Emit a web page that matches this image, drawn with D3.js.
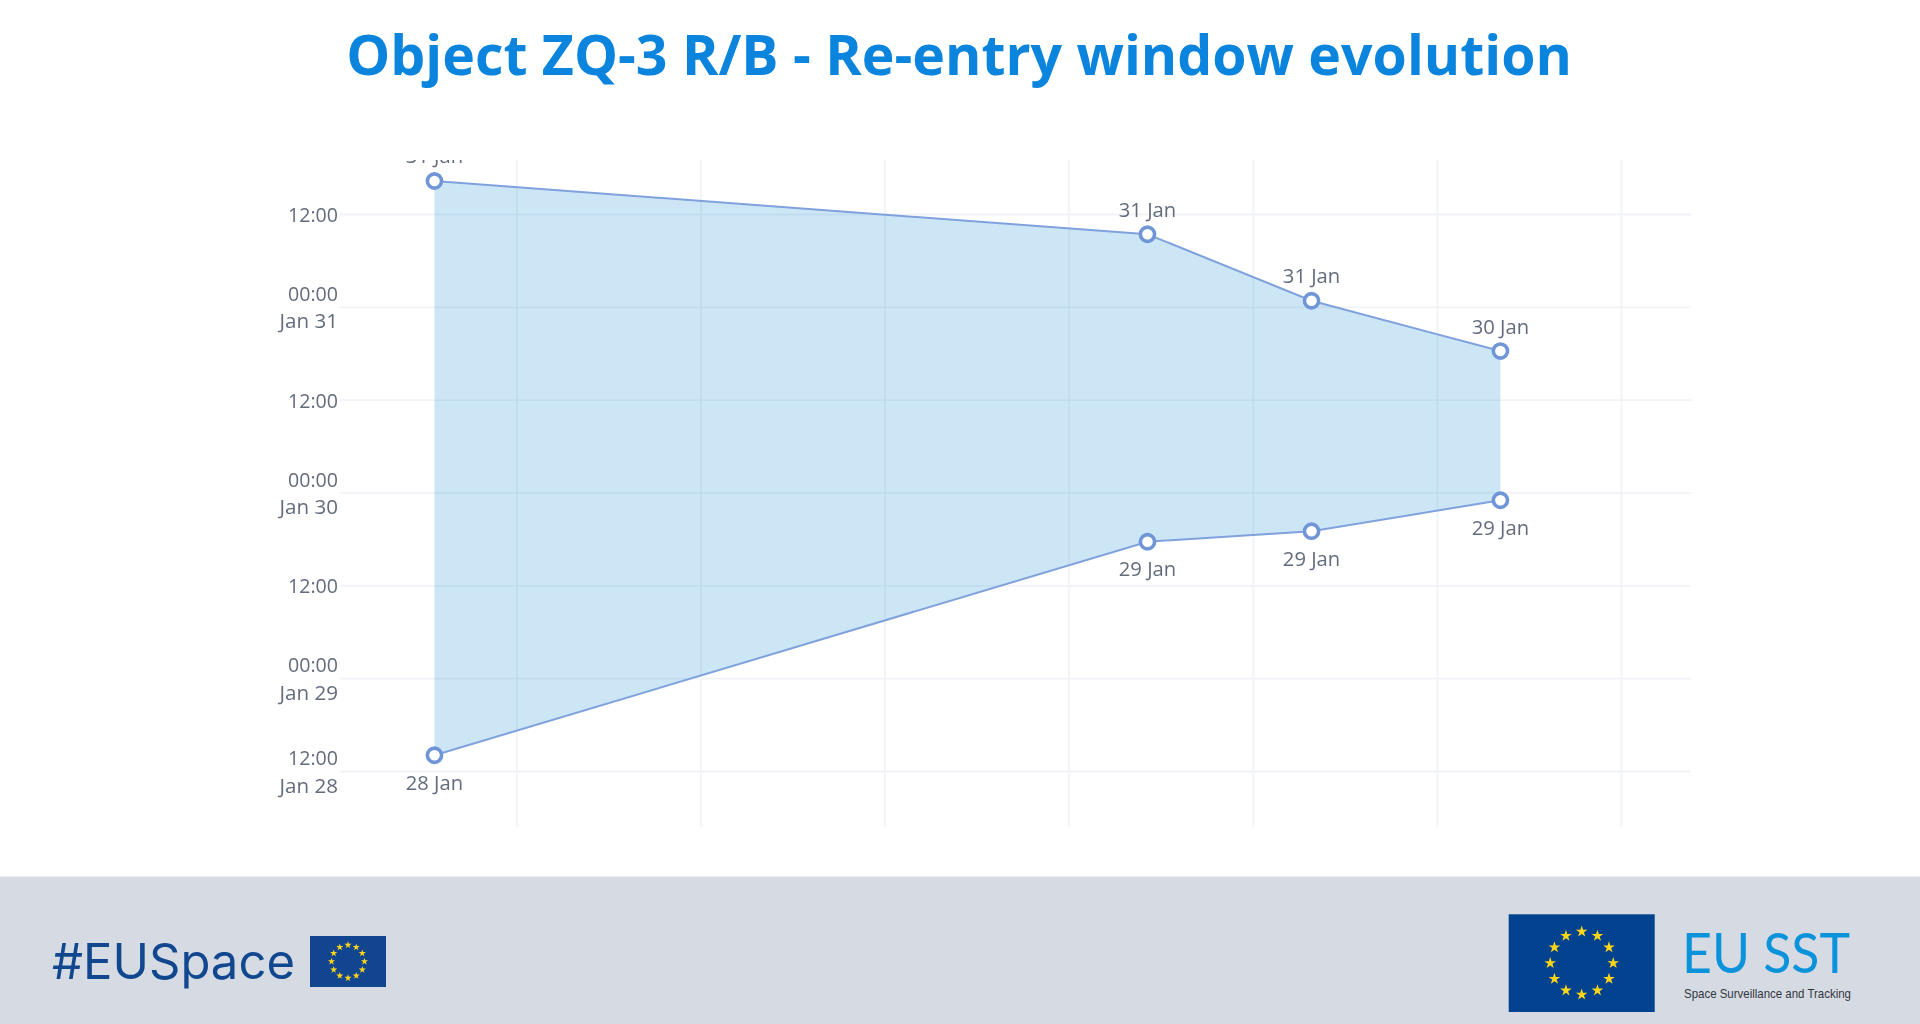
<!DOCTYPE html>
<html>
<head>
<meta charset="utf-8">
<script src="https://cdn.jsdelivr.net/npm/d3@7/dist/d3.min.js"></script>
<style>
html,body{margin:0;padding:0;background:#fff;overflow:hidden}
svg{display:block}
text{font-family:"Open Sans",sans-serif}
</style>
</head>
<body>
<svg id="c" width="1920" height="1024"></svg>
<script>
const titleText = "Object ZQ-3 R/B - Re-entry window evolution";
const xPoints = [-0.445, 3.428, 4.319, 5.345];
const xTickValues = [0, 1, 2, 3, 4, 5, 6];
const upperTimes = ["2025-01-31T16:16Z", "2025-01-31T09:23Z", "2025-01-31T00:47Z", "2025-01-30T18:17Z"];
const lowerTimes = ["2025-01-28T14:02Z", "2025-01-29T17:38Z", "2025-01-29T19:00Z", "2025-01-29T23:00Z"];
const upperLabels = ["31 Jan", "31 Jan", "31 Jan", "30 Jan"];
const lowerLabels = ["28 Jan", "29 Jan", "29 Jan", "29 Jan"];
const yTickTimes = ["2025-01-28T12:00Z", "2025-01-29T00:00Z", "2025-01-29T12:00Z", "2025-01-30T00:00Z", "2025-01-30T12:00Z", "2025-01-31T00:00Z", "2025-01-31T12:00Z"];
const yTickMain = ["12:00", "00:00", "12:00", "00:00", "12:00", "00:00", "12:00"];
const yTickSub = ["Jan 28", "Jan 29", "", "Jan 30", "", "Jan 31", ""];

const svg = d3.select("#c");
const P = {l: 340, r: 1691, t: 160, b: 827};
const x = d3.scaleLinear().domain([0, 6]).range([516.4, 1621]);
const y = d3.scaleUtc().domain([new Date(yTickTimes[0]), new Date(yTickTimes[6])]).range([771, 214]);

const defs = svg.append("defs");
defs.append("clipPath").attr("id", "plot")
  .append("rect").attr("x", P.l).attr("y", P.t).attr("width", P.r - P.l).attr("height", P.b - P.t);
defs.append("filter").attr("id", "soft").attr("x", "-5%").attr("y", "-5%").attr("width", "110%").attr("height", "110%")
  .append("feGaussianBlur").attr("stdDeviation", 0.55);

// title
svg.append("text").attr("x", 959).attr("y", 75).attr("text-anchor", "middle")
  .attr("font-size", 55.4).attr("font-weight", 700).attr("fill", "#0a84dc").text(titleText);

const chart = svg.append("g").attr("filter", "url(#soft)");

// grid
const gridColor = "#f1f3f8";
const gx = chart.append("g").attr("transform", `translate(0,${P.b})`)
  .call(d3.axisBottom(x).tickValues(xTickValues).tickSize(P.t - P.b).tickFormat(""));
gx.select(".domain").remove();
gx.selectAll("line").attr("stroke", gridColor).attr("stroke-width", 1.8);

const gy = chart.append("g").attr("transform", `translate(${P.l},0)`)
  .call(d3.axisLeft(y).tickValues(yTickTimes.map(d => new Date(d))).tickSize(P.l - P.r).tickFormat(""));
gy.select(".domain").remove();
gy.selectAll("line").attr("stroke", gridColor).attr("stroke-width", 1.8);

// y tick labels
const labelColor = "#636c7c";
const yl = chart.append("g").attr("text-anchor", "end").attr("fill", labelColor);
yTickTimes.forEach((t, i) => {
  const py = y(new Date(t));
  const two = yTickSub[i] !== "";
  yl.append("text").attr("x", 338).attr("y", py + (two ? -6 : 8)).attr("font-size", 19.6).text(yTickMain[i]);
  if (two) yl.append("text").attr("x", 338).attr("y", py + 21.5).attr("font-size", 20.6).text(yTickSub[i]);
});

// band
const rows = xPoints.map((v, i) => ({x: v, hi: new Date(upperTimes[i]), lo: new Date(lowerTimes[i]), hiL: upperLabels[i], loL: lowerLabels[i]}));
const plot = chart.append("g").attr("clip-path", "url(#plot)");
plot.append("path").datum(rows)
  .attr("d", d3.area().x(d => x(d.x)).y0(d => y(d.lo)).y1(d => y(d.hi)))
  .attr("fill", "#0a84cc").attr("fill-opacity", 0.2);

const line = k => d3.line().x(d => x(d.x)).y(d => y(d[k]));
["hi", "lo"].forEach(k => {
  plot.append("path").datum(rows).attr("d", line(k)).attr("fill", "none")
    .attr("stroke", "#7fa2de").attr("stroke-width", 2);
  plot.selectAll(null).data(rows).join("circle")
    .attr("cx", d => x(d.x)).attr("cy", d => y(d[k])).attr("r", 7.1)
    .attr("fill", "#fff").attr("stroke", "#6f96d8").attr("stroke-width", 3.6);
});
const ptLabel = "#636c7c";
plot.selectAll(null).data(rows).join("text")
  .attr("x", d => x(d.x)).attr("y", d => y(d.hi) - 17.5).attr("text-anchor", "middle")
  .attr("font-size", 20.2).attr("fill", ptLabel).text(d => d.hiL);
plot.selectAll(null).data(rows).join("text")
  .attr("x", d => x(d.x)).attr("y", d => y(d.lo) + 34.5).attr("text-anchor", "middle")
  .attr("font-size", 20.2).attr("fill", ptLabel).text(d => d.loL);

// footer
svg.append("rect").attr("x", 0).attr("y", 876.5).attr("width", 1920).attr("height", 147.5).attr("fill", "#d6dbe3");
svg.append("text").attr("x", 52).attr("y", 979).attr("font-size", 49).attr("fill", "#11478f")
  .style("font-family", "Inter, sans-serif").text("#EUSpace");

function flag(xx, yy, w, h, fill, r, size) {
  svg.append("rect").attr("x", xx).attr("y", yy).attr("width", w).attr("height", h).attr("fill", fill);
  const star = d3.symbol().type(d3.symbolStar).size(size);
  d3.range(12).forEach(i => {
    const a = i * Math.PI / 6;
    svg.append("path").attr("d", star)
      .attr("transform", `translate(${xx + w / 2 + r * Math.sin(a)},${yy + h / 2 - r * Math.cos(a)})`)
      .attr("fill", "#ffd617");
  });
}
flag(310, 936, 76, 51, "#11458f", 16.5, 16);
flag(1508.7, 914.3, 146, 97.7, "#03428f", 31.5, 42);

svg.append("text").attr("x", 1682).attr("y", 972.5).attr("font-size", 57).attr("fill", "#0a93da")
  .style("font-family", "Lato, sans-serif")
  .attr("textLength", 168).attr("lengthAdjust", "spacingAndGlyphs").text("EU SST");
svg.append("text").attr("x", 1684).attr("y", 997.5).attr("font-size", 13.5).attr("fill", "#33373d")
  .style("font-family", "'Liberation Sans', sans-serif")
  .attr("textLength", 167).attr("lengthAdjust", "spacingAndGlyphs").text("Space Surveillance and Tracking");
</script>
</body>
</html>
